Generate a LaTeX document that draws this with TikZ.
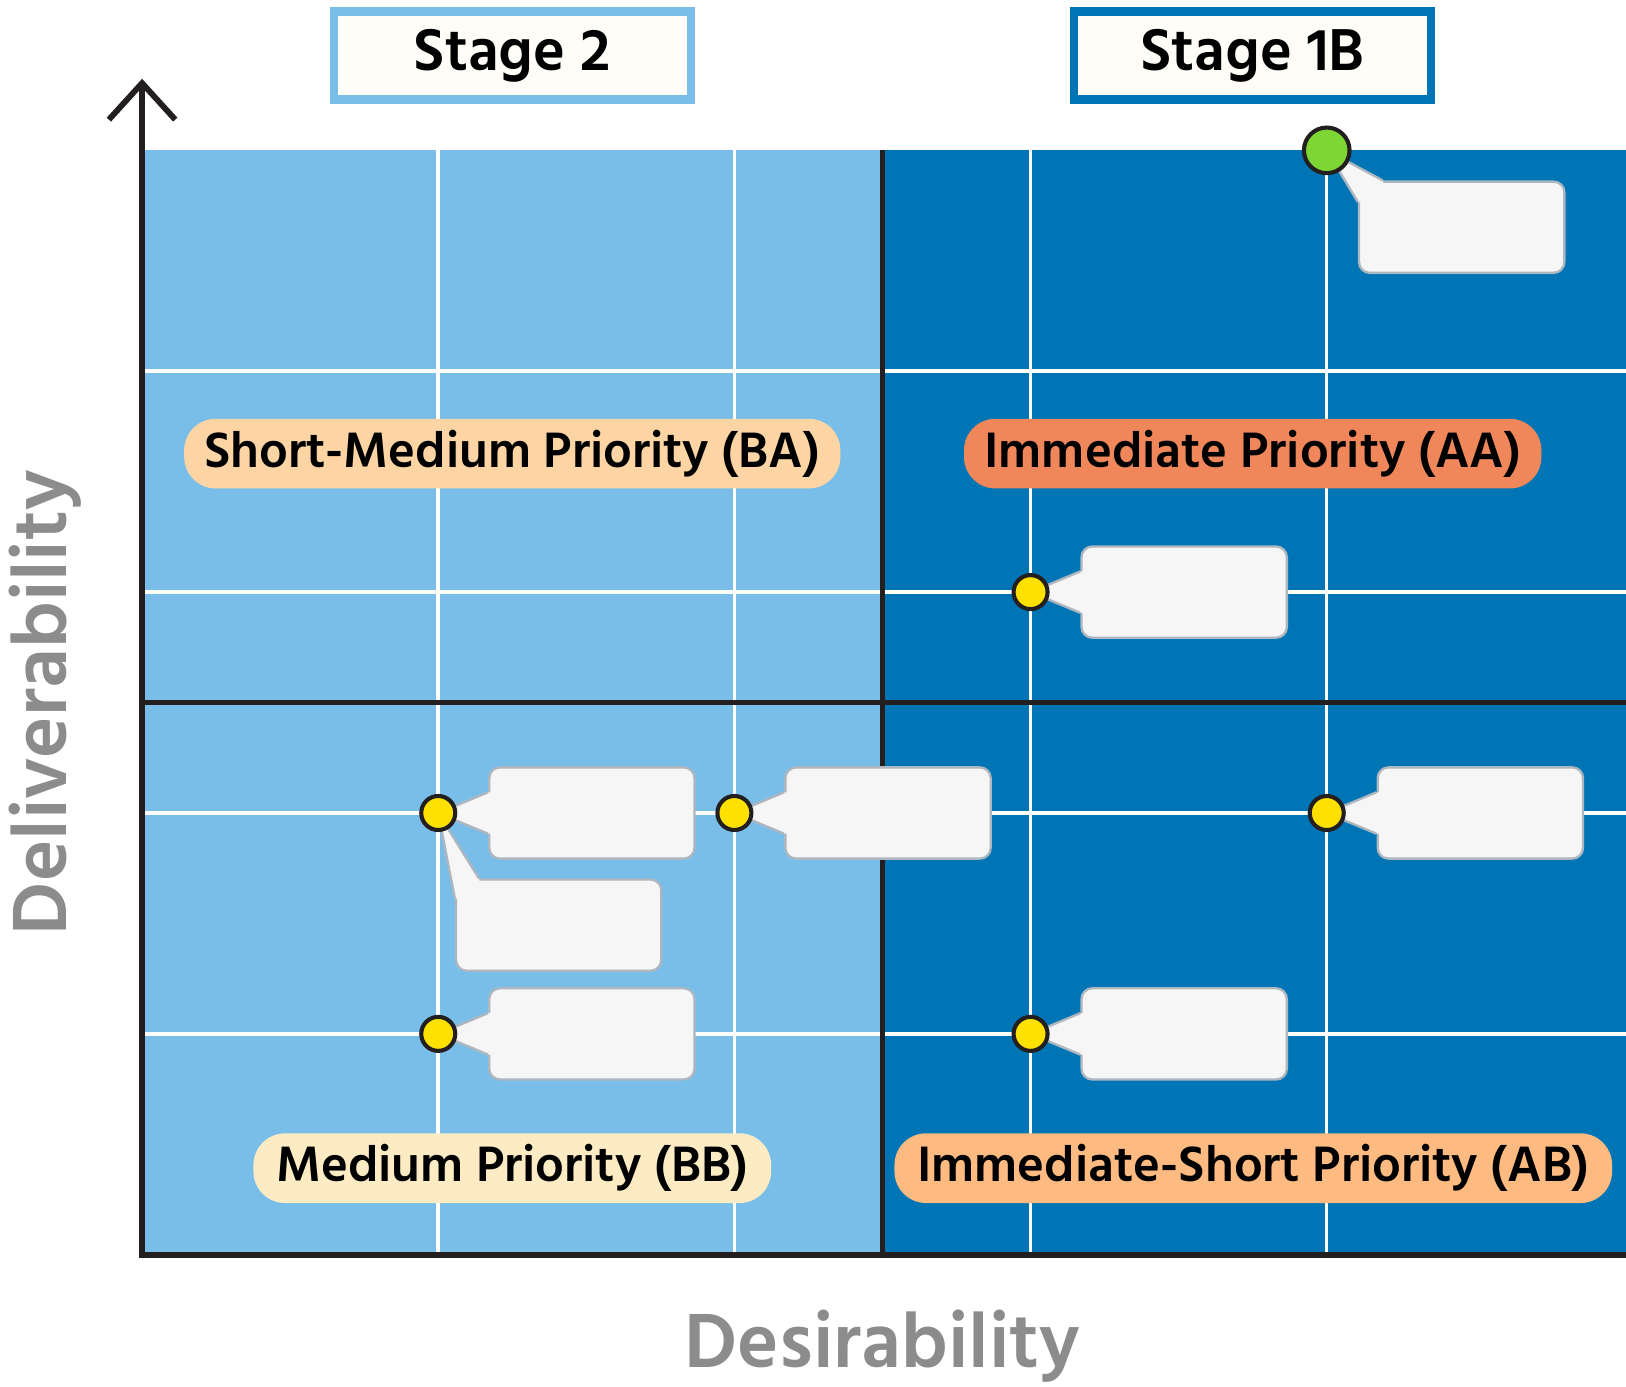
\documentclass[tikz,border=0pt]{standalone}
\usepackage{fontspec}
\usepackage{tikz}
\usepackage{xcolor}
\usetikzlibrary{positioning, arrows.meta}
\newfontfamily\hindsemi{Hind Madurai SemiBold}
\newfontfamily\hindbold{Hind Madurai Bold}
\definecolor{lowblue}{HTML}{78BEE8}
\definecolor{highblue}{HTML}{0075B5}
\definecolor{inkline}{HTML}{231F20}
\definecolor{stagefill}{HTML}{FFFDF7}
\definecolor{pillba}{HTML}{FDD5A5}
\definecolor{pillaa}{HTML}{EF875A}
\definecolor{pillbb}{HTML}{FDEBC3}
\definecolor{pillab}{HTML}{FDBB81}
\definecolor{notefill}{HTML}{F6F6F6}
\definecolor{noteline}{HTML}{AEB6BF}
\definecolor{dotyellow}{HTML}{FFE100}
\definecolor{dotgreen}{HTML}{7ED634}
\definecolor{labelgray}{HTML}{8C8C8C}

\begin{document}
\begin{tikzpicture}[x=3.57cm, y=2.6625cm,
    gridline/.style={white, line width=1.2pt},
    divider/.style={inkline, line width=1.6pt},
    axisline/.style={inkline, line width=2pt},
    stagebox/.style={line width=0.1cm, fill=stagefill, minimum width=4.3cm, minimum height=1.06cm, inner sep=0pt, font=\hindsemi\fontsize{20.8}{20.8}\selectfont},
    pill/.style={rounded corners=3.8mm, minimum height=0.84cm, inner sep=0pt, font=\hindsemi\fontsize{17.5}{17.5}\selectfont},
    notebox/.style={draw=noteline, fill=notefill, line width=0.8pt, rounded corners=1.3mm, minimum width=2.475cm, minimum height=1.1cm, inner sep=0pt},
    tipfill/.style={fill=notefill},
    tipline/.style={noteline, line width=0.8pt},
    ydot/.style={circle, draw=inkline, line width=1.4pt, fill=dotyellow, minimum size=0.41cm, inner sep=0pt},
    gdot/.style={circle, draw=inkline, line width=1.4pt, fill=dotgreen, minimum size=0.55cm, inner sep=0pt},
    axislabel/.style={labelgray, font=\hindsemi\fontsize{27}{27}\selectfont}]
    \useasboundingbox (-0.4797,-0.5962) rectangle (5.0105,5.6808);

    \fill[lowblue] (0,0) rectangle (2.5,5);
    \fill[highblue] (2.5,0) rectangle (5.0105,5);

    \draw[gridline] (1,0) -- (1,5);
    \draw[gridline] (2,0) -- (2,5);
    \draw[gridline] (3,0) -- (3,5);
    \draw[gridline] (4,0) -- (4,5);
    \draw[gridline] (0,1) -- (5.0105,1);
    \draw[gridline] (0,2) -- (5.0105,2);
    \draw[gridline] (0,3) -- (5.0105,3);
    \draw[gridline] (0,4) -- (5.0105,4);

    \draw[divider] (2.5,0) -- (2.5,5);
    \draw[divider] (0,2.5) -- (5.0105,2.5);

    \coordinate (o) at (0,0);
    \coordinate (ytop) at (0,5.324);
    \coordinate (xend) at (5.0105,0);
    \draw[axisline, {Straight Barb[length=4.4mm, width=8mm]}-] (ytop) -- (o) -- (xend);

    \node[pill, fill=pillba, minimum width=7.91cm] (ba) at (1.25,3.627) {Short-Medium Priority (BA)};
    \node[pill, fill=pillaa, minimum width=6.96cm] (aa) at (3.75,3.627) {Immediate Priority (AA)};
    \node[pill, fill=pillbb, minimum width=6.24cm] (bb) at (1.25,0.392) {Medium Priority (BB)};
    \node[pill, fill=pillab, minimum width=8.65cm] (ab) at (3.752,0.392) {Immediate-Short Priority (AB)};

    \coordinate (p45) at (4,5);
    \coordinate (p33) at (3,3);
    \coordinate (p12) at (1,2);
    \coordinate (p22) at (2,2);
    \coordinate (p42) at (4,2);
    \coordinate (p11) at (1,1);
    \coordinate (p31) at (3,1);

    \node[notebox, below right=0.3625cm and 0.375cm of p45] (n45) {};
    \node[notebox, right=0.6cm of p33] (n33) {};
    \node[notebox, right=0.6cm of p12] (n12) {};
    \node[notebox, below right=0.7875cm and 0.2cm of p12] (n12b) {};
    \node[notebox, right=0.6cm of p22] (n22) {};
    \node[notebox, right=0.6cm of p42] (n42) {};
    \node[notebox, right=0.6cm of p11] (n11) {};
    \node[notebox, right=0.6cm of p31] (n31) {};

    \fill[tipfill] (p45) -- ([xshift=3mm]n45.north west) -- ([xshift=3.5mm,yshift=-3mm]n45.north west) -- ([yshift=-2.6mm]n45.north west) -- cycle;
    \draw[tipline] ([xshift=3mm]n45.north west) -- (p45) -- ([yshift=-2.6mm]n45.north west);
    \fill[tipfill] (p12) -- ([xshift=2.9mm]n12b.north west) -- ([xshift=3.5mm,yshift=-3mm]n12b.north west) -- ([yshift=-2.4mm]n12b.north west) -- cycle;
    \draw[tipline] ([xshift=2.9mm]n12b.north west) -- (p12) -- ([yshift=-2.4mm]n12b.north west);
    \fill[tipfill] (p33) -- ([yshift=2.5mm]n33.west) -- ([xshift=1mm,yshift=2.5mm]n33.west) -- ([xshift=1mm,yshift=-2.5mm]n33.west) -- ([yshift=-2.5mm]n33.west) -- cycle;
    \draw[tipline] ([yshift=2.5mm]n33.west) -- (p33) -- ([yshift=-2.5mm]n33.west);
    \fill[tipfill] (p12) -- ([yshift=2.5mm]n12.west) -- ([xshift=1mm,yshift=2.5mm]n12.west) -- ([xshift=1mm,yshift=-2.5mm]n12.west) -- ([yshift=-2.5mm]n12.west) -- cycle;
    \draw[tipline] ([yshift=2.5mm]n12.west) -- (p12) -- ([yshift=-2.5mm]n12.west);
    \fill[tipfill] (p22) -- ([yshift=2.5mm]n22.west) -- ([xshift=1mm,yshift=2.5mm]n22.west) -- ([xshift=1mm,yshift=-2.5mm]n22.west) -- ([yshift=-2.5mm]n22.west) -- cycle;
    \draw[tipline] ([yshift=2.5mm]n22.west) -- (p22) -- ([yshift=-2.5mm]n22.west);
    \fill[tipfill] (p42) -- ([yshift=2.5mm]n42.west) -- ([xshift=1mm,yshift=2.5mm]n42.west) -- ([xshift=1mm,yshift=-2.5mm]n42.west) -- ([yshift=-2.5mm]n42.west) -- cycle;
    \draw[tipline] ([yshift=2.5mm]n42.west) -- (p42) -- ([yshift=-2.5mm]n42.west);
    \fill[tipfill] (p11) -- ([yshift=2.5mm]n11.west) -- ([xshift=1mm,yshift=2.5mm]n11.west) -- ([xshift=1mm,yshift=-2.5mm]n11.west) -- ([yshift=-2.5mm]n11.west) -- cycle;
    \draw[tipline] ([yshift=2.5mm]n11.west) -- (p11) -- ([yshift=-2.5mm]n11.west);
    \fill[tipfill] (p31) -- ([yshift=2.5mm]n31.west) -- ([xshift=1mm,yshift=2.5mm]n31.west) -- ([xshift=1mm,yshift=-2.5mm]n31.west) -- ([yshift=-2.5mm]n31.west) -- cycle;
    \draw[tipline] ([yshift=2.5mm]n31.west) -- (p31) -- ([yshift=-2.5mm]n31.west);

    \node[gdot] (g45) at (p45) {};
    \node[ydot] (y33) at (p33) {};
    \node[ydot] (y12) at (p12) {};
    \node[ydot] (y22) at (p22) {};
    \node[ydot] (y42) at (p42) {};
    \node[ydot] (y11) at (p11) {};
    \node[ydot] (y31) at (p31) {};

    \node[stagebox, draw=lowblue] (stage2) at (1.25,5.4296) {Stage 2};
    \node[stagebox, draw=highblue] (stage1b) at (3.75,5.4296) {Stage 1B};

    \node[axislabel, anchor=base] (xlab) at (2.5,-0.5117) {Desirability};
    \node[axislabel, anchor=base, rotate=90] (ylab) at (-0.2555,2.5) {Deliverability};
\end{tikzpicture}
\end{document}
